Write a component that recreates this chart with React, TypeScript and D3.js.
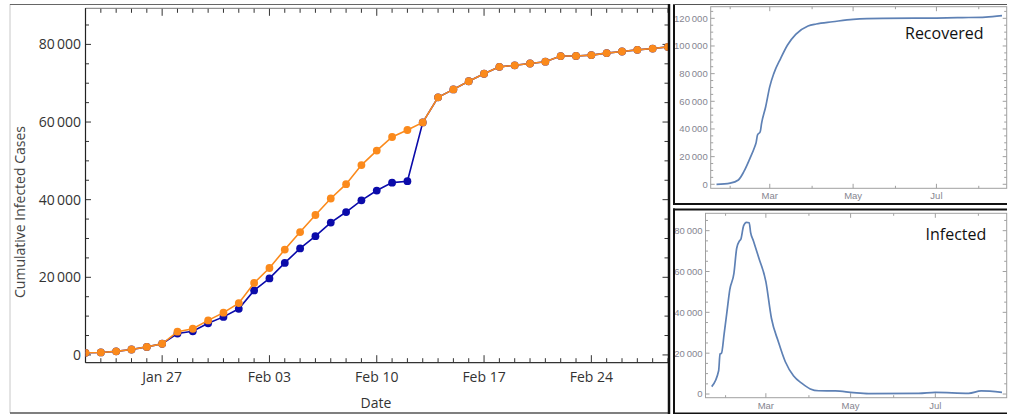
import * as React from 'react';
import * as d3 from 'd3';

// main chart: daily cumulative cases, Jan 22 - Feb 29 2020
const days = [
  '2020-01-22', '2020-01-23', '2020-01-24', '2020-01-25', '2020-01-26', '2020-01-27', '2020-01-28',
  '2020-01-29', '2020-01-30', '2020-01-31', '2020-02-01', '2020-02-02', '2020-02-03', '2020-02-04',
  '2020-02-05', '2020-02-06', '2020-02-07', '2020-02-08', '2020-02-09', '2020-02-10', '2020-02-11',
  '2020-02-12', '2020-02-13', '2020-02-14', '2020-02-15', '2020-02-16', '2020-02-17', '2020-02-18',
  '2020-02-19', '2020-02-20', '2020-02-21', '2020-02-22', '2020-02-23', '2020-02-24', '2020-02-25',
  '2020-02-26', '2020-02-27', '2020-02-28', '2020-02-29',
];
const reported = [
  548, 643, 920, 1406, 2075, 2877, 5509, 6087, 8141, 9802, 11891, 16630, 19716, 23707,
  27440, 30587, 34110, 36814, 39829, 42354, 44386, 44759, 59895, 66358, 68413, 70513, 72434, 74211,
  74619, 75077, 75550, 77001, 77022, 77241, 77754, 78166, 78600, 78928, 79356,
];
const adjusted = [
  548, 643, 920, 1406, 2075, 2877, 6000, 6750, 8900, 10900, 13350, 18550, 22400, 27150,
  31650, 36050, 40300, 44000, 48900, 52650, 56150, 57950, 59895, 66358, 68413, 70513, 72434, 74211,
  74619, 75077, 75550, 77001, 77022, 77241, 77754, 78166, 78600, 78928, 79356,
];

// small panels
const recoveredDates = [
  '2020-01-22', '2020-02-01', '2020-02-07', '2020-02-11', '2020-02-15', '2020-02-19', '2020-02-20',
  '2020-02-21', '2020-02-23', '2020-02-24', '2020-02-27', '2020-03-01', '2020-03-04', '2020-03-09',
  '2020-03-14', '2020-03-20', '2020-03-29', '2020-04-04', '2020-04-16', '2020-05-01', '2020-05-23',
  '2020-06-15', '2020-07-01', '2020-07-20', '2020-08-06', '2020-08-18',
];
const recoveredValues = [
  0, 900, 3100, 9100, 17600, 27200, 30100, 35600, 38000, 44100, 56100, 70600, 80200, 91100,
  100700, 108400, 114400, 115900, 117500, 119300, 120000, 120100, 120200, 120500, 120900, 121900,
];
const infectedDates = [
  '2020-01-22', '2020-01-27', '2020-01-28', '2020-01-29', '2020-01-31', '2020-02-02', '2020-02-04',
  '2020-02-07', '2020-02-09', '2020-02-11', '2020-02-12', '2020-02-14', '2020-02-16', '2020-02-18',
  '2020-02-19', '2020-02-21', '2020-02-25', '2020-03-01', '2020-03-05', '2020-03-10', '2020-03-15',
  '2020-03-21', '2020-03-27', '2020-04-02', '2020-04-08', '2020-04-20', '2020-05-03', '2020-05-14',
  '2020-06-19', '2020-07-01', '2020-07-25', '2020-08-03', '2020-08-18',
];
const infectedValues = [
  3600, 11400, 19600, 19900, 29700, 40300, 51000, 59100, 71400, 75000, 75800, 82500, 84100, 83900,
  79200, 75100, 66500, 55000, 37100, 25600, 15800, 8800, 5200, 2500, 1600, 1500, 650, 200,
  300, 800, 350, 1500, 800,
];

const W = 1026;
const H = 415;
const parse = d3.utcParse('%Y-%m-%d');
const fmtNum = (v: number) => d3.format(',')(v).replace(/,/g, '\u2009');

const ORANGE = '#fb8a1c';
const BLUE = '#0b0baa';
const LINE = '#5e81b5';

function MainChart() {
  const x0 = 85.5, x1 = 668, y0 = 8.3, y1 = 362.7;
  const x = d3.scaleUtc().domain([parse(days[0])!, parse(days[days.length - 1])!]).range([x0, x1]);
  const y = d3.scaleLinear().domain([-2000, 89300]).range([y1, y0]);
  const dayTicks = d3.utcDay.range(parse('2020-01-22')!, parse('2020-03-01')!);
  const weekTicks = d3.utcMonday.range(parse('2020-01-23')!, parse('2020-03-01')!);
  const yMajor = d3.range(0, 80001, 20000);
  const yMinor = d3.range(0, 89001, 5000);
  const fmtDate = d3.utcFormat('%b %d');
  const line = d3.line<number>().x((_, i) => x(parse(days[i])!)).y((d) => y(d));
  const font = "'Open Sans', sans-serif";

  const series = (vals: number[], color: string) => (
    <g>
      <path d={line(vals) || ''} fill="none" stroke={color} strokeWidth={1.6} />
      {vals.map((v, i) => (
        <circle key={i} cx={x(parse(days[i])!)} cy={y(v)} r={3.9} fill={color} />
      ))}
    </g>
  );

  return (
    <g>
      <defs>
        <clipPath id="mainclip">
          <rect x={x0} y={y0} width={x1 - x0} height={y1 - y0} />
        </clipPath>
      </defs>
      {/* ticks */}
      {dayTicks.map((d, i) => {
        const major = weekTicks.some((w) => +w === +d);
        const L = major ? 7.5 : 4.5;
        return (
          <g key={'xt' + i} stroke="#333" strokeWidth={1}>
            <line x1={x(d)} x2={x(d)} y1={y1} y2={y1 - L} />
            <line x1={x(d)} x2={x(d)} y1={y0} y2={y0 + L} />
          </g>
        );
      })}
      {yMinor.map((v, i) => {
        const major = v % 20000 === 0;
        const L = major ? 5.5 : 3.5;
        return (
          <g key={'yt' + i} stroke="#333" strokeWidth={1}>
            <line x1={x0} x2={x0 + L} y1={y(v)} y2={y(v)} />
            <line x1={x1} x2={x1 - L} y1={y(v)} y2={y(v)} />
          </g>
        );
      })}
      {/* frame */}
      <line x1={x0} x2={x1} y1={y0} y2={y0} stroke="#777" strokeWidth={1} />
      <line x1={x0} x2={x0} y1={y0} y2={y1} stroke="#222" strokeWidth={1.2} />
      <line x1={x0} x2={x1} y1={y1} y2={y1} stroke="#333" strokeWidth={1.3} />
      {/* data */}
      <g clipPath="url(#mainclip)">
        {series(reported, BLUE)}
        {series(adjusted, ORANGE)}
      </g>
      {/* labels */}
      {weekTicks.map((d, i) => (
        <text key={'xl' + i} x={x(d)} y={381.5} textAnchor="middle" fontFamily={font} fontSize={14} fill="#333">
          {fmtDate(d)}
        </text>
      ))}
      {yMajor.map((v, i) => (
        <text key={'yl' + i} x={x0 - 4.5} y={y(v)} dy="0.35em" textAnchor="end" fontFamily={font} fontSize={14} fill="#333">
          {fmtNum(v)}
        </text>
      ))}
      <text x={376} y={408} textAnchor="middle" fontFamily={font} fontSize={14} fill="#333">Date</text>
      <text transform="translate(25,212) rotate(-90)" textAnchor="middle" fontFamily={font} fontSize={14} fill="#444">
        Cumulative Infected Cases
      </text>
    </g>
  );
}

type PanelProps = {
  x0: number; x1: number; y0: number; y1: number;
  dataX0: number; dataX1: number;
  yDomain: [number, number];
  dates: string[]; values: number[];
  yMaxTick: number;
  label: string; labelX: number; labelY: number;
  id: string;
};

function SmallPanel(p: PanelProps) {
  const x = d3.scaleUtc().domain([parse('2020-01-22')!, parse('2020-08-18')!]).range([p.dataX0, p.dataX1]);
  const y = d3.scaleLinear().domain(p.yDomain).range([p.y1, p.y0]);
  const months = d3.utcMonth.range(parse('2020-02-01')!, parse('2020-08-02')!);
  const majorMonths = [2, 4, 6];
  const yMinor = d3.range(0, p.yMaxTick + 1, 5000);
  const line = d3.line<number>().x((_, i) => x(parse(p.dates[i])!)).y((d) => y(d)).curve(d3.curveMonotoneX);
  const font = "'Liberation Sans', Arial, sans-serif";
  return (
    <g>
      <defs>
        <clipPath id={p.id}>
          <rect x={p.x0} y={p.y0} width={p.x1 - p.x0} height={p.y1 - p.y0} />
        </clipPath>
      </defs>
      <rect x={p.x0} y={p.y0} width={p.x1 - p.x0} height={p.y1 - p.y0} fill="none" stroke="#a0a0a0" strokeWidth={1} />
      {months.map((m, i) => {
        const major = majorMonths.includes(m.getUTCMonth());
        const L = major ? 4.5 : 2.5;
        return (
          <g key={'m' + i} stroke="#a0a0a0">
            <line x1={x(m)} x2={x(m)} y1={p.y1} y2={p.y1 - L} />
            <line x1={x(m)} x2={x(m)} y1={p.y0} y2={p.y0 + L} />
          </g>
        );
      })}
      {yMinor.map((v, i) => {
        const major = v % 20000 === 0;
        const L = major ? 4 : 2.5;
        return (
          <g key={'v' + i} stroke="#a0a0a0">
            <line x1={p.x0} x2={p.x0 + L} y1={y(v)} y2={y(v)} />
            <line x1={p.x1} x2={p.x1 - L} y1={y(v)} y2={y(v)} />
          </g>
        );
      })}
      <path d={line(p.values) || ''} fill="none" stroke={LINE} strokeWidth={1.7} clipPath={`url(#${p.id})`} />
      {months.filter((m) => majorMonths.includes(m.getUTCMonth())).map((m, i) => (
        <text key={'ml' + i} x={x(m)} y={p.y1 + 10.8} textAnchor="middle" fontFamily={font} fontSize={9.5} fill="#858590">
          {d3.utcFormat('%b')(m)}
        </text>
      ))}
      {yMinor.filter((v) => v % 20000 === 0).map((v, i) => (
        <text key={'vl' + i} x={p.x0 - 3} y={y(v)} dy="0.35em" textAnchor="end" fontFamily={font} fontSize={9.5} fill="#858590">
          {fmtNum(v)}
        </text>
      ))}
      <text x={p.labelX} y={p.labelY} fontFamily="'Open Sans', sans-serif" fontSize={16} fill="#111">{p.label}</text>
    </g>
  );
}

export default function App() {
  return (
    <svg width={W} height={H} style={{ position: 'absolute', left: 0, top: 0, background: '#fff' }}>
      <rect x={0} y={0} width={W} height={H} fill="#fff" />
      {/* left panel outer frame */}
      <line x1={10} x2={10} y1={4} y2={413} stroke="#c8c8c8" strokeWidth={1} />
      <line x1={10} x2={669} y1={4.5} y2={4.5} stroke="#666" strokeWidth={1.2} />
      <line x1={10} x2={669} y1={413} y2={413} stroke="#555" strokeWidth={1.3} />
      <MainChart />
      <line x1={669} x2={669} y1={4} y2={414} stroke="#111" strokeWidth={2.5} />

      <SmallPanel
        id="rec" x0={710.7} x1={1006.7} y0={6.7} y1={188.3} dataX0={716.5} dataX1={1002}
        yDomain={[-2900, 128400]} dates={recoveredDates} values={recoveredValues} yMaxTick={125000}
        label="Recovered" labelX={905} labelY={39} />
      <SmallPanel
        id="inf" x0={705.5} x1={1006.7} y0={213.3} y1={397.7} dataX0={711.7} dataX1={1002}
        yDomain={[-1800, 88500]} dates={infectedDates} values={infectedValues} yMaxTick={85000}
        label="Infected" labelX={925.5} labelY={240} />

      {/* right boxes */}
      <g stroke="#111" fill="none">
        <line x1={674} x2={674} y1={4} y2={205} strokeWidth={2} />
        <line x1={673} x2={1007} y1={4.5} y2={4.5} strokeWidth={1.2} stroke="#555" />
        <line x1={673} x2={1007} y1={204} y2={204} strokeWidth={2} />
        <line x1={674} x2={674} y1={208.5} y2={414} strokeWidth={2} />
        <line x1={673} x2={1007} y1={209.5} y2={209.5} strokeWidth={2} />
        <line x1={673} x2={1007} y1={413.3} y2={413.3} strokeWidth={1.5} />
      </g>
    </svg>
  );
}
